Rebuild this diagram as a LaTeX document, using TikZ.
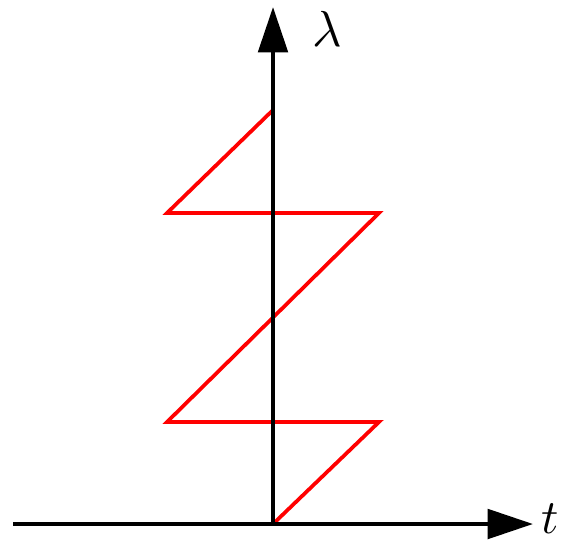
\documentclass[tikz,border=0pt]{standalone}
\usepackage{graphicx}
\usetikzlibrary{arrows.meta}
\begin{document}
\begin{tikzpicture}[x=0.75pt,y=-0.75pt,
  axis/.style={line width=3.2pt,-{Triangle[length=34pt,width=22pt]}},
  zig/.style={red,line width=2.8pt,line join=miter},
  lbl/.style={inner sep=0pt}]
\useasboundingbox (0,0) rectangle (566,542);
\coordinate (O) at (273,524);
\coordinate (L) at (13,524);
\coordinate (R) at (533,524);
\coordinate (T) at (273,7);
\coordinate (p1) at (379,422);
\coordinate (p2) at (167,422);
\coordinate (p3) at (379,213);
\coordinate (p4) at (167,213);
\coordinate (p5) at (273,110);
\draw[zig] (O) -- (p1) -- (p2) -- (p3) -- (p4) -- (p5);
\draw[axis] (L) -- (R);
\draw[axis] (O) -- (T);
\node[lbl] (lam) at (327,29) {\scalebox{3.8}{$\lambda$}};
\node[lbl] (t) at (550,519) {\scalebox{3.6}{$t$}};
\end{tikzpicture}
\end{document}
